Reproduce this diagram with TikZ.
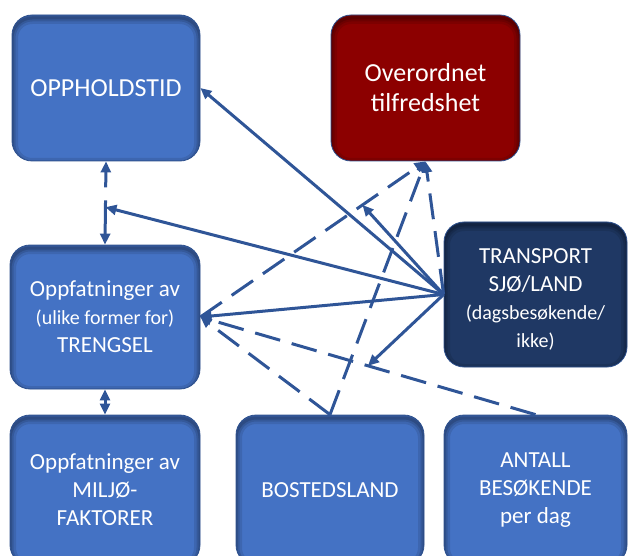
\documentclass[tikz,border=0pt]{standalone}
\usepackage{fontspec}
\setmainfont{Carlito}
\usetikzlibrary{arrows.meta,calc}
\definecolor{boxblue}{RGB}{68,114,196}
\definecolor{boxedge}{RGB}{47,82,143}
\definecolor{navyfill}{RGB}{31,56,100}
\definecolor{winefill}{RGB}{140,0,0}
\definecolor{linkblue}{RGB}{47,85,151}
\tikzset{
  Tri/.tip={Triangle[length=11pt,width=10pt]},
  innershadow/.style={path picture={
    \foreach \w/\o in {12/0.10,7/0.12,3/0.15}{
      \draw[rounded corners=20pt, line width=\w pt, black, opacity=\o]
        ([yshift=-3pt]path picture bounding box.south west) rectangle
        ([yshift=-3pt]path picture bounding box.north east);
    }}},
  card/.style={rounded corners=20pt, fill=boxblue, draw=boxedge, line width=0.8pt,
    inner sep=0pt, align=center, text=white, innershadow,
    font=\fontsize{23}{28}\selectfont},
  bigcard/.style={card, font=\fontsize{26}{30}\selectfont},
  cardtext/.style={inner sep=0pt, align=center, text=white, font=\fontsize{23}{28}\selectfont},
  link/.style={draw=linkblue, line width=3pt, -Tri},
  dlink/.style={link, dash pattern=on 26pt off 12pt},
}
\newcommand{\smalltxt}[1]{{\fontsize{20}{26}\selectfont #1}}
\begin{document}
\begin{tikzpicture}[x=1pt,y=-1pt]
\useasboundingbox (0,0) rectangle (629,556);
\clip (0,0) rectangle (629,556);
\node[bigcard, minimum width=188pt, minimum height=146pt] (opp) at (106,88) {OPPHOLDSTID};
\node[bigcard, fill=winefill, minimum width=189pt, minimum height=146pt] (over) at (425.5,88) {Overordnet\\tilfredshet};
\node[card, minimum width=190pt, minimum height=144pt] (treng) at (105,317) {Oppfatninger av\\\smalltxt{(ulike former for)}\\TRENGSEL};
\node[card, fill=navyfill, minimum width=183pt, minimum height=145pt] (trans) at (535.5,294.5) {};
\node[cardtext] (transtxt) at ($(trans.center)+(0,5)$) {TRANSPORT\\SJØ/LAND\\\smalltxt{(dagsbesøkende/}\\\smalltxt{ikke)}};
\node[card, minimum width=190pt, minimum height=150pt] (milj) at (105,490) {Oppfatninger av\\MILJØ-\\FAKTORER};
\node[card, minimum width=188pt, minimum height=150pt] (bost) at (330,490) {BOSTEDSLAND};
\node[card, minimum width=183pt, minimum height=150pt] (ant) at (535.5,490) {ANTALL\\BESØKENDE\\per dag};

\coordinate (m0) at ($(opp.south)!0.55!(treng.north)$);
\coordinate (m1) at ($(treng.east)!0.72!(over.south)$);
\coordinate (m2) at ($(ant.north)!0.5!(treng.east)$);

\draw[link, Tri-Tri, dash pattern=on 34pt off 13pt on 80pt] (treng.north) -- (opp.south);
\draw[link, Tri-Tri] (treng.south) -- (milj.north);
\draw[dlink] (treng.east) -- (over.south);
\draw[dlink] (ant.north) -- (treng.east);
\draw[dlink] (bost.north) -- (treng.east);
\draw[dlink] (bost.north) -- (over.south);
\draw[dlink] (trans.west) -- (over.south);
\draw[link] (trans.west) -- (opp.east);
\draw[link] (trans.west) -- (m0);
\draw[link] (trans.west) -- (treng.east);
\draw[link] (trans.west) -- (m1);
\draw[link] (trans.west) -- (m2);
\end{tikzpicture}
\end{document}
